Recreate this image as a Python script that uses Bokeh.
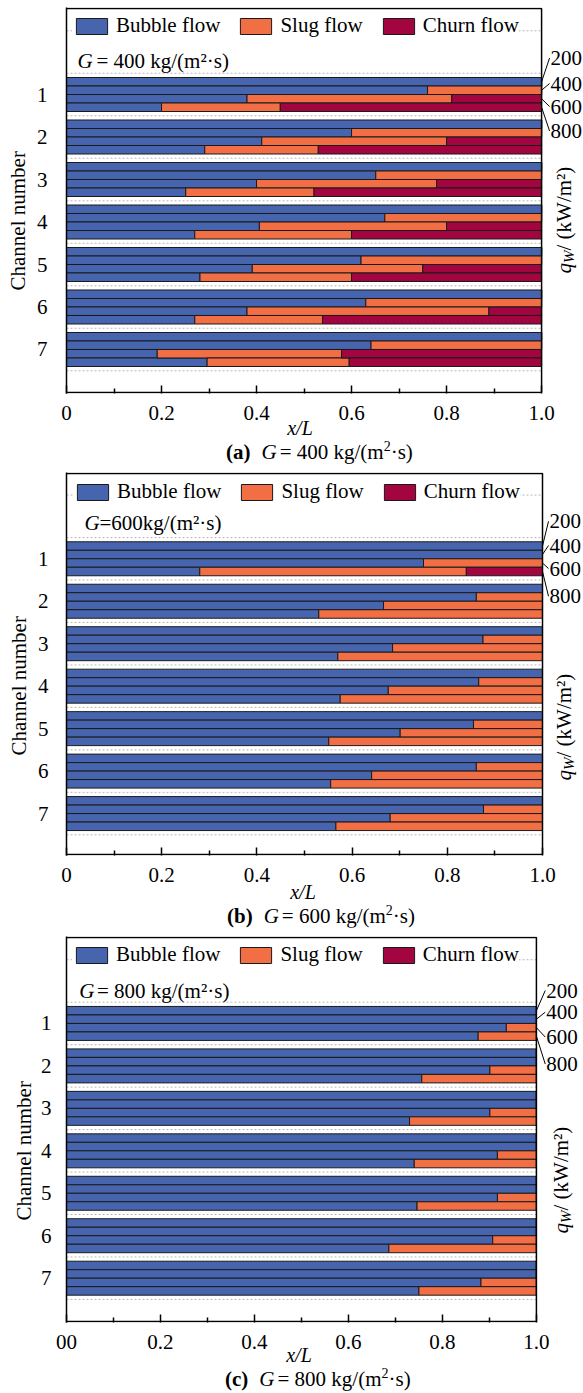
import math
from bokeh.plotting import figure
from bokeh.models import (Range1d, FixedTicker, Label, Legend, LegendItem, Title, Div,
                          ColumnDataSource, PrintfTickFormatter)
from bokeh.layouts import column
from bokeh.embed import file_html
from bokeh.resources import INLINE

# ---------------- data ----------------
channels = [1, 2, 3, 4, 5, 6, 7]
heat_flux = [200, 400, 600, 800]          # q_W, kW/m2 (bar order inside each channel)
regimes = ["Bubble flow", "Slug flow", "Churn flow"]
regime_colors = ["#4765AF", "#F26E44", "#A30540"]
mass_flux = ["400", "600", "800"]          # G, kg/(m2 s)

# x/L where bubble flow ends (rows: channel 1..7, cols: q_W 200/400/600/800)
bubble_end_G400 = [
    [1.0, 0.760, 0.380, 0.200],
    [1.0, 0.600, 0.411, 0.291],
    [1.0, 0.651, 0.400, 0.251],
    [1.0, 0.670, 0.406, 0.270],
    [1.0, 0.620, 0.391, 0.281],
    [1.0, 0.630, 0.380, 0.270],
    [1.0, 0.641, 0.191, 0.296],
]
# x/L where slug flow ends (churn flow from there to 1.0)
slug_end_G400 = [
    [1.0, 1.0, 0.811, 0.450],
    [1.0, 1.0, 0.800, 0.530],
    [1.0, 1.0, 0.779, 0.521],
    [1.0, 1.0, 0.800, 0.600],
    [1.0, 1.0, 0.750, 0.600],
    [1.0, 1.0, 0.889, 0.539],
    [1.0, 1.0, 0.579, 0.595],
]
bubble_end_G600 = [
    [1.0, 1.0, 0.750, 0.280],
    [1.0, 0.861, 0.666, 0.530],
    [1.0, 0.875, 0.685, 0.570],
    [1.0, 0.866, 0.676, 0.575],
    [1.0, 0.855, 0.701, 0.551],
    [1.0, 0.861, 0.641, 0.555],
    [1.0, 0.876, 0.680, 0.566],
]
slug_end_G600 = [
    [1.0, 1.0, 1.0, 0.840],
    [1.0, 1.0, 1.0, 1.0],
    [1.0, 1.0, 1.0, 1.0],
    [1.0, 1.0, 1.0, 1.0],
    [1.0, 1.0, 1.0, 1.0],
    [1.0, 1.0, 1.0, 1.0],
    [1.0, 1.0, 1.0, 1.0],
]
bubble_end_G800 = [
    [1.0, 1.0, 0.936, 0.876],
    [1.0, 1.0, 0.901, 0.756],
    [1.0, 1.0, 0.901, 0.730],
    [1.0, 1.0, 0.917, 0.740],
    [1.0, 1.0, 0.917, 0.746],
    [1.0, 1.0, 0.907, 0.686],
    [1.0, 1.0, 0.882, 0.750],
]
slug_end_G800 = [
    [1.0, 1.0, 1.0, 1.0],
    [1.0, 1.0, 1.0, 1.0],
    [1.0, 1.0, 1.0, 1.0],
    [1.0, 1.0, 1.0, 1.0],
    [1.0, 1.0, 1.0, 1.0],
    [1.0, 1.0, 1.0, 1.0],
    [1.0, 1.0, 1.0, 1.0],
]
x_ticks = [0.0, 0.2, 0.4, 0.6, 0.8, 1.0]
x_minor = [0.1, 0.3, 0.5, 0.7, 0.9]

FONT = "Liberation Serif"
FS = "21px"
W = 583
PITCH = 8.5   # px per bar

# ---------------- layout specs (page pixels, page origin at 0,0) ----------------
specs = [
    dict(y0=0, mbt=7, mbl=65, mbb=40, box_w=476, pad_top=8.12, pad_bot=3.06,
         letter="a", g_in=(76, 60, 95), g_rest="= 400 kg/(m\u00b2\u00b7s)",
         flux_x=550, flux_y=[57.5, 83, 106, 130.5],
         ystand=13, chan_off=103, chan_so=3, q=(563, 273),
         leg_margin=6, leg_pad=4,
         div_h=33, xl=(300, -5), cap=(226, 19)),
    dict(y0=466, mbt=6, mbl=66, mbb=40, box_w=476, pad_top=8.04, pad_bot=2.82,
         letter="b", g_in=(84, 522, 99), g_rest="=600kg/(m\u00b2\u00b7s)",
         flux_x=549, flux_y=[520.8, 545, 568, 595.8],
         ystand=12, chan_off=100, chan_so=3, q=(563, 780),
         leg_margin=7, leg_pad=4,
         div_h=32, xl=(303, -3), cap=(227, 21)),
    dict(y0=927, mbt=9, mbl=56, mbb=36, box_w=479, pad_top=8.12, pad_bot=3.1,
         letter="c", g_in=(69, 990, 87), g_rest="= 800 kg/(m\u00b2\u00b7s)",
         flux_x=545, flux_y=[990, 1011.7, 1036.5, 1063.5],
         ystand=9, chan_off=102, chan_so=0, q=(560, 1233),
         leg_margin=6, leg_pad=4,
         div_h=30, xl=(299, -3), cap=(225, 21)),
]


def lbl(p, x, y, text, size=FS, style="normal", align="left", angle=0.0):
    p.add_layout(Label(x=x, y=y, text=text, text_font=FONT, text_font_size=size,
                       text_font_style=style, text_align=align, text_baseline="middle",
                       text_color="black", angle=angle))


def make_panel(spec, bubble_end, slug_end, zero_label, g_val):
    n_rows = len(channels) * 5 - 1
    box_top = spec["pad_top"]
    box_bot = -n_rows - spec["pad_bot"]
    ext = 1.0 / PITCH
    y_end = box_top + ext
    y_start = box_bot - ext
    fh = int(round((y_end - y_start) * PITCH))
    bl = spec["mbl"]
    fw = W - bl
    x_end = fw / spec["box_w"]
    H = spec["mbt"] + fh + spec["mbb"]
    fl_abs = bl
    ft_abs = spec["y0"] + spec["mbt"]

    def dx(px):
        return (px - fl_abs) / spec["box_w"]

    def dy(py):
        return y_end - (py - ft_abs) * (y_end - y_start) / fh

    p = figure(width=W, height=H, output_backend="svg", toolbar_location=None,
               x_range=Range1d(0, x_end), y_range=Range1d(y_start, y_end),
               min_border_left=bl, min_border_right=0, min_border_top=spec["mbt"],
               min_border_bottom=spec["mbb"])
    p.outline_line_color = None
    p.background_fill_color = "white"
    p.border_fill_color = "white"
    p.xgrid.visible = False
    p.ygrid.visible = False

    # dotted separators between channels: 5.5, 0.5, -4.5, ... -34.5
    gl = [5.5 - 5 * k for k in range(len(channels) + 2)]
    p.segment(x0=[0.0] * len(gl), x1=[1.0] * len(gl), y0=gl, y1=gl,
              line_color="#b8b8b8", line_dash="2 2", line_width=1)

    # bars
    segs = {r: dict(y=[], left=[], right=[]) for r in regimes}
    for ci, ch in enumerate(channels):
        for fj, q in enumerate(heat_flux):
            yc = -(ci * 5 + fj + 0.5)
            b = bubble_end[ci][fj]
            s = slug_end[ci][fj]
            bounds = [(0.0, b), (b, s), (s, 1.0)]
            for r, (l, rr) in zip(regimes, bounds):
                segs[r]["y"].append(yc)
                segs[r]["left"].append(l)
                segs[r]["right"].append(rr)
    rends = []
    for r, c in zip(regimes, regime_colors):
        src = ColumnDataSource(segs[r])
        rend = p.hbar(y="y", left="left", right="right", height=1.0, source=src,
                      fill_color=c, line_color="#1a1a1a", line_width=1)
        rends.append(rend)

    # box (top, right, bottom); left side is the y-axis line
    p.line(x=[0, 1, 1, 0], y=[box_top, box_top, box_bot, box_bot],
           line_color="black", line_width=1.5)

    # axes
    xa = p.xaxis[0]
    xa.ticker = FixedTicker(ticks=x_ticks, minor_ticks=x_minor)
    xa.formatter = PrintfTickFormatter(format="%.1f")
    xa.major_label_overrides = {0: zero_label}
    xa.major_label_text_font = FONT
    xa.major_label_text_font_size = FS
    xa.major_label_text_color = "black"
    xa.major_label_standoff = 12
    xa.major_tick_in = 8
    xa.major_tick_out = 0
    xa.minor_tick_in = 5
    xa.minor_tick_out = 0
    xa.major_tick_line_width = 1.5
    xa.minor_tick_line_width = 1.5
    xa.major_tick_line_color = "black"
    xa.minor_tick_line_color = "black"
    xa.axis_line_color = None

    centers = [-(ci * 5 + 2) for ci in range(len(channels))]
    ya = p.yaxis[0]
    ya.ticker = FixedTicker(ticks=centers, minor_ticks=[])
    ya.major_label_overrides = {c: str(ch) for c, ch in zip(centers, channels)}
    ya.major_label_text_font = FONT
    ya.major_label_text_font_size = FS
    ya.major_label_text_color = "black"
    ya.major_label_standoff = spec["ystand"]
    ya.major_tick_line_color = None
    ya.minor_tick_line_color = None
    ya.axis_line_color = "black"
    ya.axis_line_width = 1.5

    p.add_layout(Title(text="Channel number", align="left", offset=spec["chan_off"],
                       standoff=spec["chan_so"], vertical_align="top",
                       text_font=FONT, text_font_size=FS, text_font_style="normal",
                       text_color="black"), "left")

    # legend
    legend = Legend(items=[LegendItem(label=r, renderers=[rend]) for r, rend in zip(regimes, rends)],
                    orientation="horizontal", location="top_left",
                    margin=spec["leg_margin"], padding=spec["leg_pad"], spacing=16,
                    label_standoff=5, glyph_width=39, glyph_height=20,
                    label_text_font=FONT, label_text_font_size=FS, label_text_color="black",
                    border_line_color=None, background_fill_color="white",
                    background_fill_alpha=1.0)
    p.add_layout(legend)

    # G annotation inside plot
    gx, gy, rx = spec["g_in"]
    lbl(p, dx(gx), dy(gy), "G", style="italic")
    lbl(p, dx(rx), dy(gy), spec["g_rest"])

    # heat-flux labels + leader lines
    ly = [dy(v) for v in spec["flux_y"]]
    for fj, q in enumerate(heat_flux):
        lbl(p, dx(spec["flux_x"]), ly[fj], str(q))
    p.segment(x0=[1.0] * 4, y0=[-(fj + 0.5) for fj in range(4)],
              x1=[dx(spec["flux_x"] - 1)] * 4, y1=ly, line_color="black", line_width=1)

    # right title q_W/ (kW/m2)
    qx, qy = spec["q"]
    lbl(p, dx(qx), dy(qy), "q", style="italic", angle=math.pi / 2)
    lbl(p, dx(qx + 5), dy(qy - 10.5), "W", size="15px", style="italic", angle=math.pi / 2)
    lbl(p, dx(qx), dy(qy - 23), "/ (kW/m\u00b2)", angle=math.pi / 2)

    # x-axis title and caption (HTML, mixed styles)
    xlx, xlr = spec["xl"]
    cx, cr = spec["cap"]
    LH = 15
    html = (
        '<div style="position:relative;width:%dpx;height:%dpx;font-family:\'Liberation Serif\';'
        'font-size:21px;line-height:%dpx;color:black;">'
        '<span style="position:absolute;display:block;left:%dpx;top:%.1fpx;width:100px;'
        'height:%dpx;text-align:center;font-style:italic;font-size:20px;white-space:nowrap;">x/L</span>'
        '<span style="position:absolute;display:block;left:%dpx;top:%.1fpx;height:%dpx;'
        'white-space:nowrap;">'
        '<b>(%s)</b><i style="margin-left:11px;margin-right:3px;">G</i>= %s kg/(m'
        '<sup style="font-size:14px;line-height:0;">2</sup>\u00b7s)</span></div>'
        % (W, spec["div_h"], LH, xlx - 50, xlr - LH / 2, LH, cx, cr - LH / 2, LH,
           spec["letter"], g_val)
    )
    d = Div(text=html, width=W, height=spec["div_h"], margin=(0, 0, 0, 0))
    return p, d


pa, da = make_panel(specs[0], bubble_end_G400, slug_end_G400, "0", mass_flux[0])
pb, db = make_panel(specs[1], bubble_end_G600, slug_end_G600, "0", mass_flux[1])
pc, dc = make_panel(specs[2], bubble_end_G800, slug_end_G800, "00", mass_flux[2])

layout = column(pa, da, pb, db, pc, dc, spacing=0)
open("out.html", "w").write(file_html(layout, INLINE))
